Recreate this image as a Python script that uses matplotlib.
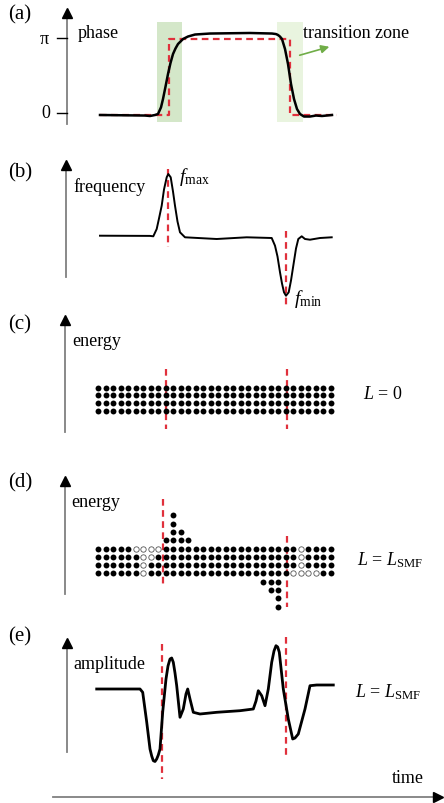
import numpy as np
import matplotlib
matplotlib.use("Agg")
import matplotlib.pyplot as plt

plt.rcParams['font.family'] = ['Liberation Serif', 'DejaVu Serif']
plt.rcParams['mathtext.fontset'] = 'custom'
plt.rcParams['mathtext.rm'] = 'Liberation Serif'
plt.rcParams['mathtext.it'] = 'Liberation Serif:italic'

# ---- data (time axis in figure pixels, values as offsets) ----
# (a) phase, in units of pi
phase_t = [100, 145, 150, 155, 158, 161, 163, 165.5, 168, 170.5, 173, 175.5, 178, 183,
           188, 195, 210, 250, 272, 276, 278, 280, 282, 285, 288, 291, 294, 297, 300,
           304, 310, 316, 322, 332]
phase_v = [0, -0.007, -0.013, 0, 0.013, 0.1, 0.209, 0.37, 0.536, 0.68, 0.797, 0.87,
           0.928, 0.993, 1.026, 1.052, 1.065, 1.072, 1.065, 1.058, 1.046, 1.025, 0.993,
           0.863, 0.667, 0.405, 0.209, 0.078, 0.013, -0.02, -0.02, -0.007, -0.013, 0]
ideal_t = [100, 169.3, 169.3, 290, 290, 337]
ideal_v = [0, 0, 1, 1, 0, 0]
zones = [(156.7, 182.3, '#d4e7c9'), (276.7, 302.7, '#e9f4df')]

# (b) frequency (offset from baseline)
freq_t = [100, 150, 153.3, 156.7, 159, 161.7, 164, 166.7, 168.3, 170.7, 173, 175, 177.5,
          180, 185, 216.7, 246.7, 271.7, 275, 277.5, 280, 282, 284, 286, 288.7, 291,
          293.3, 296, 298.3, 301.7, 305, 310, 320, 331.7]
freq_v = [0.8, 0.6, 0.2, 7.5, 18, 30.8, 47, 59.2, 62.5, 59.2, 45, 30.8, 15,
          4.2, -0.8, -2.5, -0.8, -1.5, -9.2, -20, -35.8, -47, -55.8, -59.2, -55.8, -44,
          -29.2, -12, -2.5, 0.2, -2.5, -3.2, -1.5, -0.8]

# (c)/(d) energy grid
n_cols = 32
n_rows = 4
above = {9: 1, 10: 4, 11: 2, 12: 1}
below = {22: 1, 23: 2, 24: 4}
empty = [(0, 5), (0, 6), (0, 7), (0, 8), (0, 27),
         (1, 6), (1, 7), (1, 27),
         (2, 6), (2, 27),
         (3, 6), (3, 26), (3, 27), (3, 28), (3, 29)]

# (e) amplitude (offset from baseline)
amp_t = [96.7, 140, 142.7, 146.7, 150, 151.7, 153.3, 155, 156.7, 158.3, 160, 162.7,
         166, 168, 170, 171.7, 173.3, 175, 176.7, 180, 183.3, 186, 187.7, 190, 193.3,
         200, 216.7, 240, 253.3, 256, 258.3, 261.7, 265, 268.3, 271.7, 274, 276, 277.7,
         279.3, 283.3, 288.3, 292.7, 295, 298.3, 305, 310, 316.7, 333.3]
amp_v = [0, 0, -3.3, -33, -60, -67, -71.7, -72.5, -70, -66, -60, -23,
         10, 23, 30, 31, 26.7, 16, 3.3, -28.3, -20, -5, 0, -10, -23.3,
         -25, -23.3, -21.7, -20, -12, -1.7, -6.7, -16.7, 0, 26.7, 38, 43.3, 42,
         36.7, 0, -30, -50, -49, -45, -20, 3.3, 4, 4]

RED = '#e0303c'
fig = plt.figure(figsize=(4.44, 8.04), dpi=100)
ax = fig.add_axes([0, 0, 1, 1])
ax.set_xlim(0, 444)
ax.set_ylim(804, 0)
ax.axis('off')


def yarrow(x, y0, y1):
    ax.plot([x, x], [y0, y1 + 4], color='#808080', lw=1.3)
    ax.plot(x, y1 + 4, marker='^', ms=7, color='black', mec='black')


def vdash(x, y0, y1):
    ax.plot([x, x], [y0, y1], color=RED, lw=1.6, ls=(0, (3, 2)))


lab = dict(fontsize=15, va='center', ha='center')
txt = dict(fontsize=13, va='center', ha='left')

# ---- (a) ----
ax.text(20, 15, '(a)', **lab)
yarrow(67, 125, 10)
for yy in [39.3, 114.3]:
    ax.plot([57, 67], [yy, yy], color='black', lw=1)
ax.text(50, 39, r'$\mathrm{\pi}$', fontsize=13, va='center', ha='right')
ax.text(50, 114, '0', fontsize=13, va='center', ha='right')
ax.text(78, 33, 'phase', **txt)
for x0, x1, c in zones:
    ax.fill_between([x0, x1], 23, 123, color=c, lw=0, zorder=0)
y0a, scale_a = 116, 76.5
ax.plot(ideal_t, [y0a - v * scale_a for v in ideal_v], color=RED, lw=1.6, ls=(0, (3, 2)))
ax.plot(phase_t, [y0a - v * scale_a for v in phase_v], color='black', lw=1.8)
ax.text(303, 33, 'transition zone', **txt)
ax.annotate('', xy=(332, 47), xytext=(297, 57),
            arrowprops=dict(arrowstyle='-|>', color='#70ad47', lw=1.2, mutation_scale=12))

# ---- (b) ----
ax.text(20, 173, '(b)', **lab)
yarrow(65.7, 278, 162)
ax.text(73, 187, 'frequency', **txt)
vdash(168.3, 170, 248)
vdash(286, 232, 307)
y0b = 237.5
ax.plot(freq_t, [y0b - v for v in freq_v], color='black', lw=1.4)
ax.text(179, 177, r'$f_{\mathrm{max}}$', fontsize=14, va='center', ha='left')
ax.text(294, 299, r'$f_{\mathrm{min}}$', fontsize=14, va='center', ha='left')

# ---- (c) ----
ax.text(20, 325, '(c)', **lab)
yarrow(65, 433, 317)
ax.text(72, 342, 'energy', **txt)
col_x = np.linspace(98, 331, n_cols)
vdash(165.5, 370, 430)
vdash(286.5, 370, 430)
cx, cy = np.meshgrid(col_x, 388.5 + 7.75 * np.arange(n_rows))
ax.scatter(cx.ravel(), cy.ravel(), s=18, color='black', lw=0, zorder=3)
ax.text(363, 395, r'$L$ = 0', **txt)

# ---- (d) ----
ax.text(20, 483, '(d)', **lab)
yarrow(65, 595, 478)
ax.text(71, 503, 'energy', **txt)
vdash(163.3, 500, 588)
vdash(286.7, 537, 608)
row_d = 549.5
dy = 8.3
fx, fy, ox, oy = [], [], [], []
for r in range(n_rows):
    for c in range(n_cols):
        if (r, c) in empty:
            ox.append(col_x[c]); oy.append(row_d + dy * r)
        else:
            fx.append(col_x[c]); fy.append(row_d + dy * r)
for c, k in above.items():
    for j in range(1, k + 1):
        fx.append(col_x[c]); fy.append(row_d - dy * j)
for c, k in below.items():
    for j in range(k):
        fx.append(col_x[c]); fy.append(row_d + dy * (n_rows + j))
ax.scatter(fx, fy, s=18, color='black', lw=0, zorder=3)
ax.scatter(ox, oy, s=15, facecolor='white', edgecolor='#555555', lw=0.6, zorder=3)
ax.text(357, 560, r'$L$ = $L_{\mathrm{SMF}}$', **txt)

# ---- (e) ----
ax.text(20, 637, '(e)', **lab)
yarrow(67, 753, 640)
ax.text(73, 665, 'amplitude', **txt)
vdash(161.7, 645, 780)
vdash(286, 638, 760)
y0e = 690
ax.plot(amp_t, [y0e - v for v in amp_v], color='black', lw=2.0)
ax.text(355, 692, r'$L$ = $L_{\mathrm{SMF}}$', **txt)

# time axis
ax.plot([53, 436], [797.7, 797.7], color='#808080', lw=1.3)
ax.plot(438, 797.7, marker='>', ms=7, color='black')
ax.text(392, 779, 'time', **txt)

fig.savefig('out.png', dpi=100)
